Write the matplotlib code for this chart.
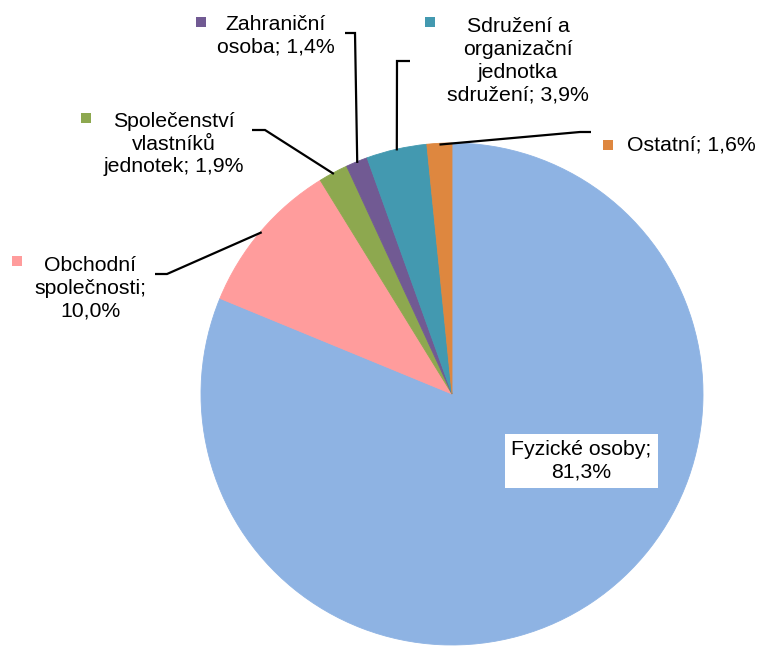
import matplotlib
matplotlib.use("Agg")
import matplotlib.pyplot as plt
from matplotlib.patches import Rectangle
import numpy as np

categories = ["Fyzické osoby", "Obchodní společnosti", "Společenství vlastníků jednotek",
              "Zahraniční osoba", "Sdružení a organizační jednotka sdružení", "Ostatní"]
values = [81.3, 10.0, 1.9, 1.4, 3.9, 1.6]
label_texts = ["Fyzické osoby;\n81,3%", "Obchodní\nspolečnosti;\n10,0%",
               "Společenství\nvlastníků\njednotek; 1,9%", "Zahraniční\nosoba; 1,4%",
               "Sdružení a\norganizační\njednotka\nsdružení; 3,9%", "Ostatní; 1,6%"]
colors = ["#8EB3E3", "#FF9C9C", "#8DA84F", "#715A93", "#4399B0", "#DE873F"]

plt.rcParams['font.family'] = ['Liberation Sans', 'DejaVu Sans']

fig = plt.figure(figsize=(7.6, 6.46), dpi=100)
ax = fig.add_axes([0, 0, 1, 1])
cx, cy, R = 452, 394, 251
wedges, _ = ax.pie(values, colors=colors, startangle=-90, counterclock=True,
                   center=(cx, cy), radius=R, wedgeprops=dict(linewidth=0.6))
for w in wedges:
    w.set_edgecolor(w.get_facecolor())
ax.set_xlim(0, 760)
ax.set_ylim(646, 0)
ax.axis('off')

FS = 15.3
LS = 1.25
# label layout: text center, marker position, elbow points
layout = {
    1: dict(txt=(90, 288), mk=(12, 256), elbow=[(155, 274), (167, 274)]),
    2: dict(txt=(174, 144), mk=(81, 113), elbow=[(252, 130), (265, 130)]),
    3: dict(txt=(276, 36), mk=(196, 17), elbow=[(345, 33), (355, 33)]),
    4: dict(txt=(518, 61), mk=(425, 17), elbow=[(410, 61), (397, 61)]),
    5: dict(txt=(691, 145), mk=(603, 140), elbow=[(591, 132), (580, 132)]),
}
for i, w in enumerate(wedges):
    if i == 0:
        continue
    L = layout[i]
    ang = np.deg2rad((w.theta1 + w.theta2) / 2)
    ex = cx + R * np.cos(ang) * 0.995
    ey = cy + R * np.sin(ang) * 0.995
    pts = L['elbow'] + [(ex, ey)]
    ax.plot([p[0] for p in pts], [p[1] for p in pts], color='black', lw=1.6,
            solid_capstyle='butt', solid_joinstyle='miter')
    ax.text(L['txt'][0], L['txt'][1], label_texts[i], ha='center', va='center',
            fontsize=FS, linespacing=LS, color='black')
    ax.add_patch(Rectangle(L['mk'], 10, 10, color=colors[i], lw=0))

ax.text(581, 461, label_texts[0], ha='center', va='center', fontsize=FS,
        linespacing=LS, color='black',
        bbox=dict(boxstyle='square,pad=0.3', fc='white', ec='none'))

fig.savefig("out.png", dpi=100)
